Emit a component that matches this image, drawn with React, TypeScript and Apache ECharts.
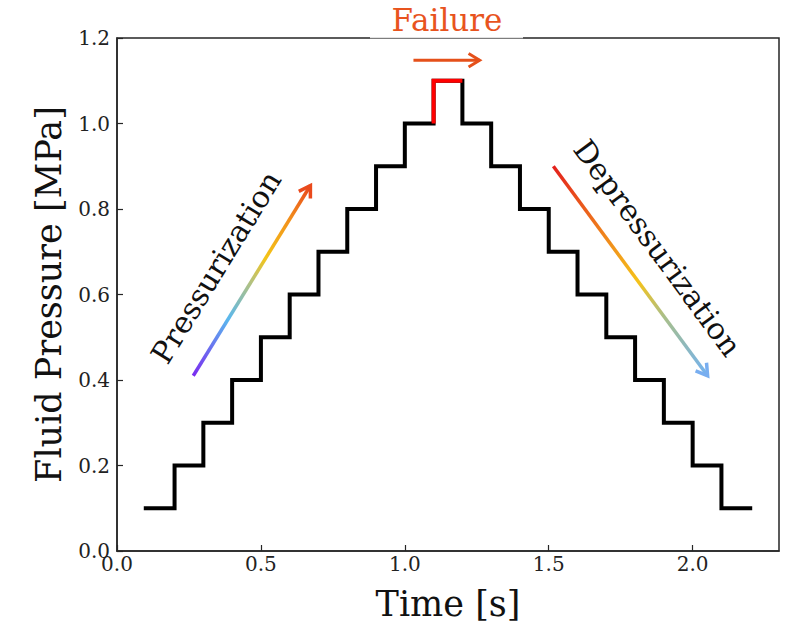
import React, { useEffect, useRef } from "react";
import * as echarts from "echarts";

// Step-test data (time [s], pressure [MPa])
const stepTimes = [0.1, 0.2, 0.3, 0.4, 0.5, 0.6, 0.7, 0.8, 0.9, 1.0, 1.1, 1.2, 1.3, 1.4, 1.5, 1.6, 1.7, 1.8, 1.9, 2.0, 2.1, 2.2];
const stepPressures = [0.1, 0.2, 0.3, 0.4, 0.5, 0.6, 0.7, 0.8, 0.9, 1.0, 1.1, 1.0, 0.9, 0.8, 0.7, 0.6, 0.5, 0.4, 0.3, 0.2, 0.1, 0.1];
const failureTimes = [1.1, 1.1, 1.2];
const failurePressures = [1.0, 1.1, 1.1];

const xTicks = [0.0, 0.5, 1.0, 1.5, 2.0];
const yTicks = [0.0, 0.2, 0.4, 0.6, 0.8, 1.0, 1.2];

// Annotation arrows in data coordinates [start, end]
const pressArrow = [[0.265, 0.41], [0.672, 0.855]];
const depressArrow = [[1.516, 0.9], [2.052, 0.41]];
const failureArrow = [[1.03, 1.148], [1.26, 1.148]];
const pressLabelPos = [0.344, 0.664];
const depressLabelPos = [1.878, 0.709];

const pressStops = [
  { offset: 0, color: "#7a2cf0" },
  { offset: 0.3, color: "#5ab8ee" },
  { offset: 0.5, color: "#b8c27a" },
  { offset: 0.62, color: "#f4c417" },
  { offset: 0.82, color: "#f2901c" },
  { offset: 1, color: "#e8461c" },
];
const depressStops = [
  { offset: 0, color: "#e3201c" },
  { offset: 0.35, color: "#f08a1c" },
  { offset: 0.55, color: "#f5c21a" },
  { offset: 0.72, color: "#a9bf8a" },
  { offset: 1, color: "#72b2f2" },
];

const SERIF = "DejaVu Serif";

export default function App() {
  const ref = useRef<HTMLDivElement>(null);
  useEffect(() => {
    if (!ref.current) return;
    document.body.style.margin = "0";
    document.body.style.overflow = "hidden";
    const chart = echarts.init(ref.current, null, { renderer: "svg" });
    const stepData = stepTimes.map((t, i) => [t, stepPressures[i]]);
    const failData = failureTimes.map((t, i) => [t, failurePressures[i]]);
    chart.setOption({
      animation: false,
      backgroundColor: "#ffffff",
      grid: {
        left: 117,
        top: 38,
        width: 662,
        height: 513,
        show: true,
        borderColor: "#262626",
        borderWidth: 1.5,
        backgroundColor: "transparent",
        containLabel: false,
        outerBoundsMode: "none",
      },
      xAxis: {
        type: "value",
        min: 0,
        max: 2.3,
        interval: 0.5,
        name: "Time [s]",
        nameLocation: "middle",
        nameGap: 35,
        nameTextStyle: { fontFamily: SERIF, fontSize: 35, color: "#111" },
        axisLine: { show: true, lineStyle: { color: "#262626", width: 1.5 } },
        axisTick: { show: true, inside: true, length: 6, lineStyle: { color: "#262626", width: 1.2 } },
        axisLabel: {
          fontFamily: SERIF,
          fontSize: 20,
          color: "#222",
          margin: 3,
          formatter: (v: number) => (xTicks.includes(v) ? v.toFixed(1) : ""),
          showMaxLabel: false,
        },
        splitLine: { show: false },
      },
      yAxis: {
        type: "value",
        min: 0,
        max: 1.2,
        interval: 0.2,
        name: "Fluid Pressure [MPa]",
        nameLocation: "middle",
        nameGap: 51,
        nameTextStyle: { fontFamily: SERIF, fontSize: 35, color: "#111" },
        axisLine: { show: true, lineStyle: { color: "#262626", width: 1.5 } },
        axisTick: { show: true, inside: true, length: 6, lineStyle: { color: "#262626", width: 1.2 } },
        axisLabel: {
          fontFamily: SERIF,
          fontSize: 20,
          color: "#222",
          margin: 7,
          formatter: (v: number) => {
            const m = yTicks.find((t) => Math.abs(t - v) < 1e-9);
            return m === undefined ? "" : m.toFixed(1);
          },
        },
        splitLine: { show: false },
      },
      series: [
        {
          type: "line",
          data: stepData,
          step: "end",
          symbol: "none",
          lineStyle: { color: "#000000", width: 4, join: "miter", cap: "square" },
          z: 2,
        },
        {
          type: "line",
          data: failData,
          symbol: "none",
          lineStyle: { color: "#ff0000", width: 4, join: "miter", cap: "butt" },
          z: 3,
        },
      ],
    });

    const px = (p: number[]) => chart.convertToPixel({ gridIndex: 0 }, p) as number[];

    const arrow = (s: number[], e: number[], stroke: any, headColor: string, width: number) => {
      const a = px(s);
      const b = px(e);
      const ang = Math.atan2(b[1] - a[1], b[0] - a[0]);
      const hl = 13;
      const spread = 0.55;
      const h1 = [b[0] - hl * Math.cos(ang - spread), b[1] - hl * Math.sin(ang - spread)];
      const h2 = [b[0] - hl * Math.cos(ang + spread), b[1] - hl * Math.sin(ang + spread)];
      const strokeVal =
        stroke === null
          ? headColor
          : new echarts.graphic.LinearGradient(a[0], a[1], b[0], b[1], stroke, true);
      return [
        {
          type: "line",
          shape: { x1: a[0], y1: a[1], x2: b[0], y2: b[1] },
          style: { stroke: strokeVal, lineWidth: width, lineCap: "butt" },
          z: 10,
        },
        {
          type: "polyline",
          shape: { points: [h1, b, h2] },
          style: { stroke: headColor, lineWidth: width, fill: null, lineJoin: "miter" },
          z: 10,
        },
      ];
    };

    const pl = px(pressLabelPos);
    const dl = px(depressLabelPos);
    const pa = [px(pressArrow[0]), px(pressArrow[1])];
    const da = [px(depressArrow[0]), px(depressArrow[1])];
    const pAng = Math.atan2(-(pa[1][1] - pa[0][1]), pa[1][0] - pa[0][0]);
    const dAng = Math.atan2(-(da[1][1] - da[0][1]), da[1][0] - da[0][0]);

    chart.setOption({
      graphic: [
        {
          type: "rect",
          shape: { x: 370, y: 0, width: 153, height: 37.5 },
          style: { fill: "#ffffff", stroke: null },
          z: 9,
        },
        {
          type: "line",
          shape: { x1: 370, y1: 37.7, x2: 523, y2: 37.7 },
          style: { stroke: "#e2e2e2", lineWidth: 1.2 },
          z: 9,
        },
        {
          type: "text",
          x: 447,
          y: 20,
          style: {
            text: "Failure",
            fontFamily: SERIF,
            fontSize: 31,
            fill: "#e8541e",
            align: "center",
            verticalAlign: "middle",
          },
          z: 10,
        },
        ...arrow(failureArrow[0], failureArrow[1], null, "#e5501a", 3),
        ...arrow(pressArrow[0], pressArrow[1], pressStops, "#ea4a1c", 3.5),
        ...arrow(depressArrow[0], depressArrow[1], depressStops, "#78aef0", 3.5),
        {
          type: "text",
          x: pl[0],
          y: pl[1],
          rotation: pAng,
          style: {
            text: "Pressurization",
            fontFamily: SERIF,
            fontSize: 30,
            fill: "#111",
            align: "center",
            verticalAlign: "middle",
          },
          z: 10,
        },
        {
          type: "text",
          x: dl[0],
          y: dl[1],
          rotation: dAng,
          style: {
            text: "Depressurization",
            fontFamily: SERIF,
            fontSize: 30,
            fill: "#111",
            align: "center",
            verticalAlign: "middle",
          },
          z: 10,
        },
      ],
    });

    return () => chart.dispose();
  }, []);
  return (
    <div
      ref={ref}
      style={{ position: "fixed", left: 0, top: 0, width: 787, height: 623, overflow: "hidden" }}
    />
  );
}
